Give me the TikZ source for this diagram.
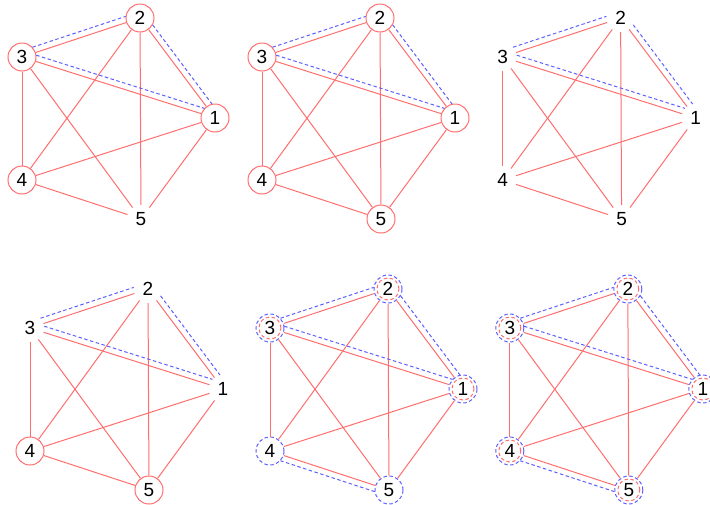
\documentclass[tikz,border=0pt]{standalone}
\usepackage{fontspec}
\setmainfont{Liberation Sans}
\usetikzlibrary{calc}
\definecolor{redc}{RGB}{255,110,110}
\definecolor{bluec}{RGB}{95,95,255}
\tikzset{
  vtx/.style={circle, minimum size=28pt, inner sep=0pt, font=\fontsize{19}{19}\selectfont, text=black},
  rc/.style={draw=redc, line width=1pt},
  nc/.style={},
  bb/.style={draw=bluec, line width=1pt, dash pattern=on 3.5pt off 2.5pt},
  rb/.style={bb, path picture={\draw[redc, line width=1pt] (path picture bounding box.center) circle (11pt);}},
  redge/.style={draw=redc, line width=1pt},
  bdash/.style={draw=bluec, line width=1pt, dash pattern=on 3.5pt off 2.5pt, shorten <=13pt, shorten >=13pt}
}
% prefix, xoff, yoff, styles of nodes 1..5
\newcommand{\Kfive}[8]{%
  \begin{scope}[shift={(#2,#3)}]
    \node[vtx,#4] (#1-1) at (215,118) {1};
    \node[vtx,#5] (#1-2) at (140,18) {2};
    \node[vtx,#6] (#1-3) at (22,57) {3};
    \node[vtx,#7] (#1-4) at (22,180) {4};
    \node[vtx,#8] (#1-5) at (141,219) {5};
  \end{scope}
  \foreach \a/\b in {1/2,1/3,1/4,1/5,2/3,2/4,2/5,3/4,3/5,4/5}
    \draw[redge] (#1-\a) -- (#1-\b);
}
\newcommand{\dedge}[2]{\draw[bdash] ($(#1)!6pt!90:(#2)$) -- ($(#2)!6pt!-90:(#1)$);}
\begin{document}
\begin{tikzpicture}[x=1pt,y=-1pt]
  \useasboundingbox (0,0) rectangle (710,504);
  \Kfive{a}{0}{0}{rc}{rc}{rc}{rc}{nc}
  \Kfive{b}{240}{0}{rc}{rc}{rc}{rc}{rc}
  \Kfive{c}{480.6}{0}{nc}{nc}{nc}{nc}{nc}
  \Kfive{d}{8}{271}{nc}{nc}{nc}{rc}{rc}
  \Kfive{e}{248}{271}{rb}{rb}{rb}{bb}{bb}
  \Kfive{f}{487.8}{271}{rb}{rb}{rb}{rb}{rb}
  \foreach \p in {a,b,c,d,e,f} {
    \dedge{\p-3}{\p-2}
    \dedge{\p-3}{\p-1}
    \dedge{\p-2}{\p-1}
  }
  \dedge{e-5}{e-4}
  \dedge{f-5}{f-4}
\end{tikzpicture}
\end{document}
